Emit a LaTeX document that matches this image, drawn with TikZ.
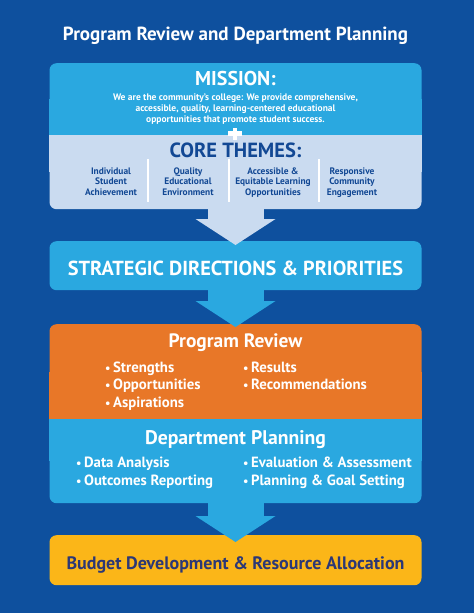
\documentclass[tikz,border=0pt]{standalone}
\usepackage{fontspec}
\setmainfont{PT Sans}
\usepackage{tikz}
\usetikzlibrary{arrows.meta, positioning}

\definecolor{bgblue}{RGB}{14,80,158}
\definecolor{skyblue}{RGB}{42,168,224}
\definecolor{paleblue}{RGB}{202,219,240}
\definecolor{themeblue}{RGB}{18,72,148}
\definecolor{orangebox}{RGB}{232,119,40}
\definecolor{goldbox}{RGB}{251,182,24}
\definecolor{budgetnavy}{RGB}{44,56,118}

\tikzset{every picture/.style={x=1pt,y=-1pt},
  box/.style={rectangle, rounded corners=7pt, minimum width=372pt, inner sep=0pt, anchor=north},
  head/.style={text=white, font=\bfseries\fontsize{19}{22}\selectfont, anchor=base, inner sep=0pt},
  small/.style={text=white, font=\bfseries\fontsize{9.5}{11}\selectfont, align=center, anchor=base, inner sep=0pt},
  theme/.style={text=themeblue, font=\bfseries\fontsize{9.4}{10.5}\selectfont, align=center, anchor=base, inner sep=0pt},
  point/.style={text=white, font=\bfseries\fontsize{14.8}{17.5}\selectfont, anchor=base west, inner sep=0pt},
  flow/.style={line width=56pt, -{Triangle[width=80pt, length=26pt, line width=0pt]}}}
\newcommand{\dotitem}[1]{{\fontsize{12}{12}\selectfont\textbullet}\,#1}

\begin{document}
\begin{tikzpicture}
  \fill[bgblue] (0,0) rectangle (474,613);
  \useasboundingbox (0,0) rectangle (474,613);

  \node[head] (title) at (235.5,40.7) {Program Review and Department Planning};

  % mission + core themes
  \node[box, fill=skyblue, minimum height=72pt] (mission) at (235.5,63) {};
  \fill[skyblue] (mission.west) rectangle (mission.south east);
  \node[box, fill=paleblue, minimum height=74pt] (themes) at (235.5,135) {};
  \fill[paleblue] (themes.north west) rectangle (themes.east);

  \node[head, font=\bfseries\fontsize{20}{22}\selectfont] (missionhead) at (235.5,85) {MISSION:};
  \node[small] (missiontext) at (235.5,122) {We are the community's college: We provide comprehensive,\\
    accessible, quality, learning-centered educational\\
    opportunities that promote student success.};
  \fill[white] (228,131.3) rectangle (242,135.8);
  \fill[white] (232.8,127.5) rectangle (237.2,139.5);

  \node[head, text=themeblue, font=\bfseries\fontsize{20.5}{22}\selectfont] (themeshead) at (235.5,157.3) {CORE THEMES:};
  \node[theme] (t1) at (111,195) {Individual\\Student\\Achievement};
  \node[theme] (t2) at (188,195) {Quality\\Educational\\Environment};
  \node[theme] (t3) at (273,195) {Accessible \&\\Equitable Learning\\Opportunities};
  \node[theme] (t4) at (352,195) {Responsive\\Community\\Engagement};
  \foreach \x in {148,229,319}
    \draw[white, line width=1.2pt] (\x,159) -- (\x,202);

  % strategic directions
  \node[box, fill=skyblue, minimum height=49pt] (strategic) at (235.5,241) {};
  \node[head, font=\bfseries\fontsize{20.3}{22}\selectfont] (strategichead) at (235.5,275) {STRATEGIC DIRECTIONS \& PRIORITIES};

  % program review + department planning
  \node[box, fill=orangebox, minimum height=95pt] (review) at (235.5,324) {};
  \fill[orangebox] (review.west) rectangle (review.south east);
  \node[box, fill=skyblue, minimum height=84pt] (planning) at (235.5,419) {};
  \fill[skyblue] (planning.north west) rectangle (planning.east);

  \node[head, font=\bfseries\fontsize{19.4}{20}\selectfont] (reviewhead) at (235.5,347.5) {Program Review};
  \foreach \item [count=\i] in {Strengths, Opportunities, Aspirations}
    \node[point] (rl\i) at (105,354.8+17.5*\i) {\dotitem{\item}};
  \foreach \item [count=\i] in {Results, Recommendations}
    \node[point] (rr\i) at (243,354.8+17.5*\i) {\dotitem{\item}};

  \node[head, font=\bfseries\fontsize{19.7}{20}\selectfont] (planninghead) at (235.5,444.3) {Department Planning};
  \foreach \item [count=\i] in {Data Analysis, Outcomes Reporting}
    \node[point] (pl\i) at (76,450+17.7*\i) {\dotitem{\item}};
  \foreach \item [count=\i] in {Evaluation \& Assessment, Planning \& Goal Setting}
    \node[point] (pr\i) at (243,450+17.7*\i) {\dotitem{\item}};

  % budget
  \node[box, fill=goldbox, minimum height=50pt] (budget) at (235.5,535) {};
  \node[head, text=budgetnavy, font=\bfseries\fontsize{18}{20}\selectfont] (budgethead) at (235.5,569) {Budget Development \& Resource Allocation};

  \foreach \from/\to/\col/\d in {themes/strategic/paleblue/4, strategic/review/skyblue/3, planning/budget/skyblue/7}
    \draw[flow, \col] (\from.south) -- ([yshift=-\d pt]\to.north);
\end{tikzpicture}
\end{document}
